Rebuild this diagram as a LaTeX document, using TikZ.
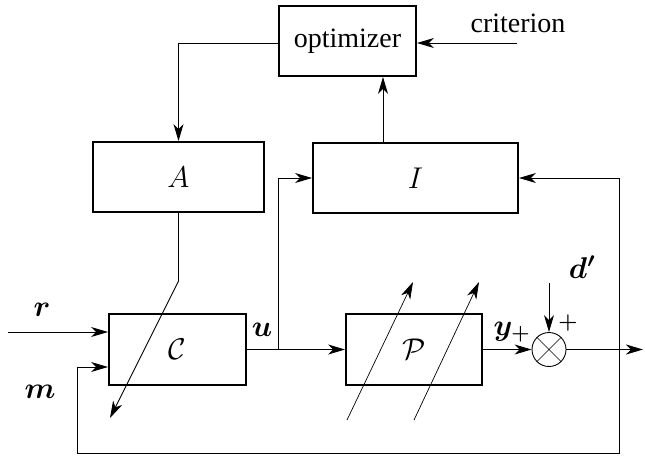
\RequirePackage{fix-cm}
\documentclass[tikz,border=0pt]{standalone}
\usepackage{amsmath}
\usepackage{bm}
\usepackage{fontspec}
\setmainfont{Liberation Serif}
\usetikzlibrary{arrows.meta}
\begin{document}
\begin{tikzpicture}[x=1pt,y=-1pt,
  blk/.style={draw,line width=1.9pt,minimum width=#1,minimum height=70pt,inner sep=0pt},
  conn/.style={line width=0.9pt},
  arr/.style={conn,-{Stealth[length=17pt,width=10pt,inset=5pt]}},
  lbl/.style={font=\fontsize{30}{32}\selectfont},
  txt/.style={font=\fontsize{28}{30}\selectfont}]
\useasboundingbox (0,0) rectangle (645,456);
% blocks
\node[blk=137pt,txt] (opt) at (347.5,41) {optimizer};
\node[blk=171pt,lbl] (A) at (178.5,177) {$A$};
\node[blk=205pt,lbl] (I) at (415.5,178) {$I$};
\node[blk=137pt,lbl,minimum height=71pt] (C) at (177.5,349.5) {$\mathcal{C}$};
\node[blk=136pt,lbl,minimum height=71pt] (P) at (414,349.5) {$\mathcal{P}$};
\node[draw,circle,line width=0.9pt,minimum size=34pt,inner sep=0pt] (S) at (549,349.5) {};
\draw[line width=0.6pt] (S.north west) -- (S.south east) (S.north east) -- (S.south west);
% labels
\node[txt] (crlab) at (518,23) {criterion};
\node[lbl] (rlab) at (42,310) {$\bm{r}$};
\node[lbl] (mlab) at (40,392) {$\bm{m}$};
\node[lbl] (ulab) at (262,330) {$\bm{u}$};
\node[lbl] (ylab) at (512,332) {$\bm{y_{+}}$};
\node[lbl] (dlab) at (582,267) {$\bm{d'}$};
\node[font=\fontsize{22}{24}\selectfont] (plab) at (568,323) {$\bm{+}$};
% coordinates
\coordinate (crit) at (517,43);
\coordinate (cd1) at (178.5,281);
\coordinate (cd2) at (110,418);
\coordinate (rin) at (8,332);
\coordinate (ju) at (278,349.5);
\coordinate (out) at (643,349.5);
\coordinate (jy) at (619,349.5);
\coordinate (bl) at (77,453);
\coordinate (min) at (77,367);
\coordinate (din) at (549,283);
\coordinate (p1a) at (347,420);
\coordinate (p1b) at (413,282);
\coordinate (p2a) at (414,420);
\coordinate (p2b) at (479,282);
% connectors
\draw[arr] (crit) -- (crit -| opt.east);
\draw[arr] (opt.west |- crit) -| (A.north);
\draw[arr] ([xshift=-32.5pt]I.north) -- ([xshift=-32.5pt]I.north |- opt.south);
\draw[arr] (A.south) -- (cd1) -- (cd2);
\draw[arr] (rin) -- (rin -| C.west);
\draw[arr] (C.east) -- (P.west);
\draw[arr] (ju) |- (I.west);
\draw[arr] (P.east) -- (S.west);
\draw[arr] (S.east) -- (out);
\draw[arr] (jy) |- (I.east);
\draw[arr] (jy) |- (bl) -- (min) -- (min -| C.west);
\draw[arr] (din) -- (S.north);
\draw[arr,line width=0.7pt] (p1a) -- (p1b);
\draw[arr,line width=0.7pt] (p2a) -- (p2b);
\end{tikzpicture}
\end{document}
